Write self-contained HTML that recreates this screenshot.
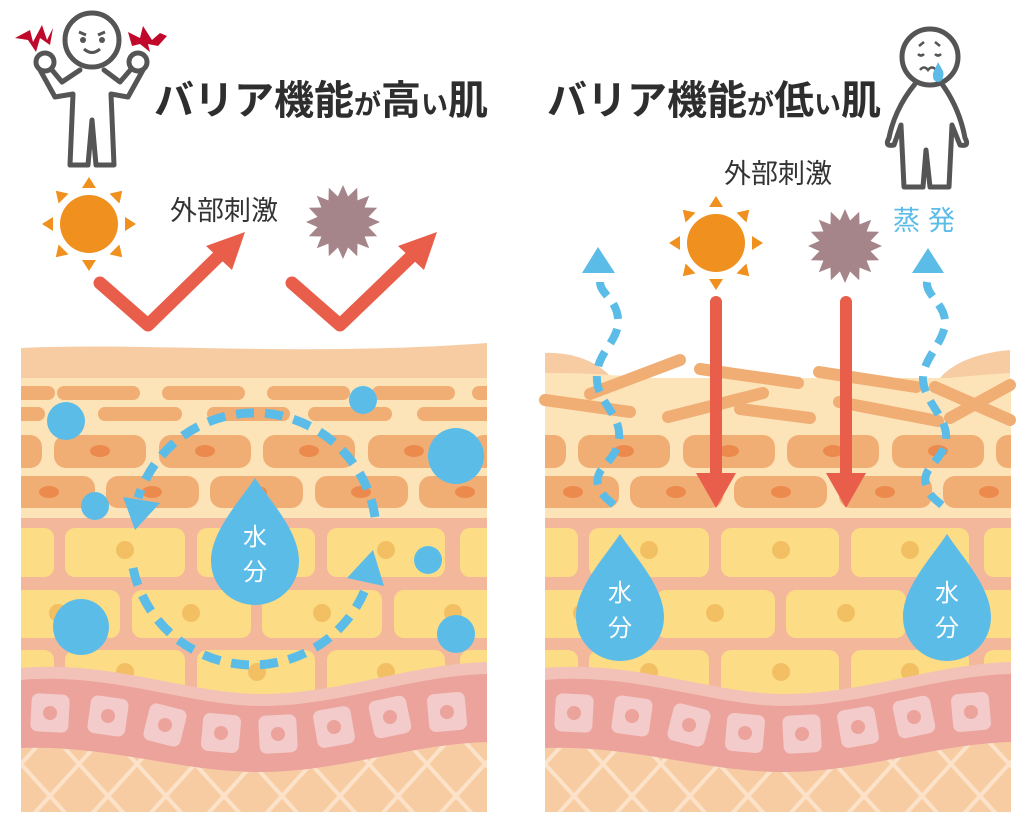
<!DOCTYPE html>
<html><head><meta charset="utf-8"><style>
html,body{margin:0;padding:0;background:#fff;}
svg{display:block;}
text{font-family:"Liberation Sans","Noto Sans CJK JP",sans-serif;}
</style></head><body>
<svg width="1024" height="825" viewBox="0 0 1024 825" xmlns="http://www.w3.org/2000/svg">
<defs>
<clipPath id="cp"><rect x="21" y="340" width="466" height="472"/></clipPath>
<pattern id="lat" x="21" y="700" width="58" height="64" patternUnits="userSpaceOnUse">
<path d="M0,0 L29,32 L58,0 M0,64 L29,32 L58,64" stroke="#FCE2C8" stroke-width="4" fill="none"/>
</pattern>
<g id="lower" clip-path="url(#cp)">
<rect x="21" y="378" width="466" height="142" fill="#FCE4B8"/>
<g fill="#F0AE74">
<rect x="0" y="435" width="42" height="33" rx="12"/><rect x="54" y="435" width="92" height="33" rx="12"/><rect x="159" y="435" width="92" height="33" rx="12"/><rect x="263" y="435" width="92" height="33" rx="12"/><rect x="368" y="435" width="92" height="33" rx="12"/><rect x="472" y="435" width="40" height="33" rx="12"/>
<rect x="0" y="476" width="95" height="32" rx="12"/><rect x="106" y="476" width="93" height="32" rx="12"/><rect x="210" y="476" width="93" height="32" rx="12"/><rect x="315" y="476" width="93" height="32" rx="12"/><rect x="419" y="476" width="93" height="32" rx="12"/>
</g>
<g fill="#EC8A4D">
<ellipse cx="100" cy="451" rx="10" ry="6"/><ellipse cx="205" cy="451" rx="10" ry="6"/><ellipse cx="309" cy="451" rx="10" ry="6"/><ellipse cx="414" cy="451" rx="10" ry="6"/>
<ellipse cx="49" cy="492" rx="10" ry="6"/><ellipse cx="152" cy="492" rx="10" ry="6"/><ellipse cx="257" cy="492" rx="10" ry="6"/><ellipse cx="361" cy="492" rx="10" ry="6"/><ellipse cx="465" cy="492" rx="10" ry="6"/>
</g>
<rect x="21" y="518" width="466" height="200" fill="#F3B89C"/>
<g fill="#FCDC84">
<rect x="0" y="528" width="54" height="49" rx="10"/><rect x="65" y="528" width="120" height="49" rx="10"/><rect x="197" y="528" width="118" height="49" rx="10"/><rect x="327" y="528" width="118" height="49" rx="10"/><rect x="460" y="528" width="60" height="49" rx="10"/>
<rect x="0" y="590" width="120" height="48" rx="10"/><rect x="132" y="590" width="119" height="48" rx="10"/><rect x="262" y="590" width="120" height="48" rx="10"/><rect x="394" y="590" width="120" height="48" rx="10"/>
<rect x="0" y="650" width="54" height="60" rx="10"/><rect x="65" y="650" width="120" height="60" rx="10"/><rect x="197" y="650" width="118" height="60" rx="10"/><rect x="327" y="650" width="118" height="60" rx="10"/><rect x="460" y="650" width="60" height="60" rx="10"/>
</g>
<g fill="#F2C063">
<circle cx="125" cy="550" r="9"/><circle cx="257" cy="550" r="9"/><circle cx="386" cy="550" r="9"/>
<circle cx="58" cy="613" r="9"/><circle cx="191" cy="613" r="9"/><circle cx="322" cy="613" r="9"/><circle cx="453" cy="613" r="9"/>
<circle cx="125" cy="672" r="9"/><circle cx="257" cy="672" r="9"/><circle cx="386" cy="672" r="9"/>
</g>
<rect x="21" y="700" width="466" height="112" fill="#F7CCA2"/>
<rect x="21" y="700" width="466" height="112" fill="url(#lat)"/>
<path d="M21,668 C110,660 190,694 260,694 C340,694 410,664 487,662 L487,742 C410,744 340,772 260,772 C180,772 110,745 21,748 Z" fill="#F2C2B8"/>
<path d="M21,680 C110,672 190,706 260,706 C340,706 410,676 487,674 L487,742 C410,744 340,772 260,772 C180,772 110,745 21,748 Z" fill="#EBA39B"/>
<g fill="#F3CBCB">
<rect x="31" y="694" width="38" height="38" rx="7" transform="rotate(3 50 713)"/>
<rect x="89" y="697" width="38" height="38" rx="7" transform="rotate(8 108 716)"/>
<rect x="146" y="706" width="38" height="38" rx="7" transform="rotate(14 165 725)"/>
<rect x="202" y="714" width="38" height="38" rx="7" transform="rotate(5 221 733)"/>
<rect x="259" y="715" width="38" height="38" rx="7" transform="rotate(-3 278 734)"/>
<rect x="315" y="708" width="38" height="38" rx="7" transform="rotate(-10 334 727)"/>
<rect x="371" y="698" width="38" height="38" rx="7" transform="rotate(-12 390 717)"/>
<rect x="428" y="693" width="38" height="38" rx="7" transform="rotate(-5 447 712)"/>
</g>
<g fill="#EBA39B">
<circle cx="50" cy="713" r="7"/><circle cx="108" cy="716" r="7"/><circle cx="165" cy="725" r="7"/><circle cx="221" cy="733" r="7"/><circle cx="278" cy="734" r="7"/><circle cx="334" cy="727" r="7"/><circle cx="390" cy="717" r="7"/><circle cx="447" cy="712" r="7"/>
</g>
</g>
<polygon id="star" fill="#A5858A" points="37,0 25.5,5.1 34.2,14.2 21.6,14.5 26.2,26.2 14.5,21.6 14.2,34.2 5.1,25.5 0,37 -5.1,25.5 -14.2,34.2 -14.5,21.6 -26.2,26.2 -21.6,14.5 -34.2,14.2 -25.5,5.1 -37,0 -25.5,-5.1 -34.2,-14.2 -21.6,-14.5 -26.2,-26.2 -14.5,-21.6 -14.2,-34.2 -5.1,-25.5 0,-37 5.1,-25.5 14.2,-34.2 14.5,-21.6 26.2,-26.2 21.6,-14.5 34.2,-14.2 25.5,-5.1"/>
<g id="sun">
<circle r="29" fill="#F0901F"/>
<g fill="#F0901F">
<polygon points="-7,-36 7,-36 0,-47"/>
<polygon points="-7,-36 7,-36 0,-47" transform="rotate(45)"/>
<polygon points="-7,-36 7,-36 0,-47" transform="rotate(90)"/>
<polygon points="-7,-36 7,-36 0,-47" transform="rotate(135)"/>
<polygon points="-7,-36 7,-36 0,-47" transform="rotate(180)"/>
<polygon points="-7,-36 7,-36 0,-47" transform="rotate(225)"/>
<polygon points="-7,-36 7,-36 0,-47" transform="rotate(270)"/>
<polygon points="-7,-36 7,-36 0,-47" transform="rotate(315)"/>
</g>
</g>
<path id="drop" d="M0,-83 C15,-60 44,-30 44,0 A44,44 0 0 1 -44,0 C-44,-30 -15,-60 0,-83 Z" fill="#5BBCE8"/>
</defs>

<!-- LEFT PANEL -->
<path d="M21,348 C150,342 300,357 487,343 L487,380 L21,380 Z" fill="#F7CCA2"/>
<use href="#lower"/>
<g clip-path="url(#cp)" fill="#F0AE74">
<rect x="0" y="386" width="55" height="14" rx="7"/><rect x="57" y="386" width="83" height="14" rx="7"/><rect x="162" y="386" width="83" height="14" rx="7"/><rect x="267" y="386" width="83" height="14" rx="7"/><rect x="372" y="386" width="83" height="14" rx="7"/><rect x="472" y="386" width="40" height="14" rx="7"/>
<rect x="0" y="407" width="45" height="14" rx="7"/><rect x="98" y="407" width="84" height="14" rx="7"/><rect x="207" y="407" width="83" height="14" rx="7"/><rect x="308" y="407" width="84" height="14" rx="7"/><rect x="417" y="407" width="84" height="14" rx="7"/>
</g>
<g fill="#5BBCE8">
<circle cx="66" cy="421" r="19"/><circle cx="363" cy="400" r="14"/><circle cx="456" cy="456" r="28"/><circle cx="95" cy="506" r="14"/><circle cx="428" cy="560" r="14"/><circle cx="81" cy="627" r="28"/><circle cx="456" cy="634" r="19"/>
</g>
<g fill="none" stroke="#5BBCE8" stroke-width="9" stroke-dasharray="18 11">
<path d="M375,517 A122,122 0 0 0 138,498"/>
<path d="M133,568 A122,122 0 0 0 368,582"/>
</g>
<g fill="#5BBCE8">
<polygon points="135,530 123,497 160,503"/>
<polygon points="373,550 347,578 384,586"/>
</g>
<use href="#drop" x="255" y="561"/>
<text x="255" y="545" font-size="24" fill="#fff" text-anchor="middle">水</text>
<text x="255" y="580" font-size="24" fill="#fff" text-anchor="middle">分</text>

<use href="#sun" x="89" y="224"/>
<use href="#star" x="343" y="222"/>
<text x="170" y="220" font-size="27" fill="#333">外部刺激</text>
<g stroke="#E95E4A" stroke-width="13" fill="none" stroke-linecap="round" stroke-linejoin="round">
<polyline points="100,283 148,325 225,250"/>
<polyline points="292,283 340,325 418,250"/>
</g>
<g fill="#E95E4A">
<polygon points="245,232 206,246 232,270"/>
<polygon points="437,232 398,246 424,270"/>
</g>
<text x="154" y="114" font-size="40" font-weight="bold" fill="#2e2e2e">バリア機能<tspan font-size="27">が</tspan>高<tspan font-size="27">い</tspan>肌</text>
<!-- left figure -->
<g stroke="#555" stroke-width="5" fill="#fff" stroke-linejoin="round" stroke-linecap="round">
<path d="M80,70 L62,82 L52,70 M40,70 L55,97 L73,94 L70,165 L88,165 L92,120 L96,165 L114,165 L111,94 L128,97 L143,70 M132,68 L120,82 L104,70" fill="none"/>
<circle cx="92" cy="40" r="27"/>
<circle cx="45" cy="62" r="9"/>
<circle cx="138" cy="62" r="9"/>
</g>
<g fill="#555"><circle cx="83" cy="40" r="3"/><circle cx="102" cy="40" r="3"/></g>
<path d="M84,49 Q92,56 100,49" stroke="#555" stroke-width="3" fill="none"/>
<path d="M79,32 L86,35 M105,32 L98,35" stroke="#555" stroke-width="3"/>
<g fill="#C0092A">
<polygon points="15,38 30,30 33,42 42,25 47,40 53,28 50,45 40,38 36,52 28,40"/>
<polygon points="128,32 140,38 143,26 152,40 160,33 167,36 158,46 148,44 150,52 140,44 132,46"/>
</g>

<!-- RIGHT PANEL -->
<use href="#lower" transform="translate(524 0)"/>
<path d="M545,353 C570,352 595,360 610,376 L545,380 Z" fill="#F7CCA2"/>
<path d="M940,378 C955,360 985,352 1010,350 L1010,380 Z" fill="#F7CCA2"/>
<path d="M545,373 C620,372 700,385 780,386 C860,390 930,378 1010,373 L1010,430 L545,430 Z" fill="#FCE4B8"/>
<g stroke="#F0AE74" stroke-width="12" stroke-linecap="round" fill="none">
<line x1="590" y1="394" x2="680" y2="360"/>
<line x1="545" y1="400" x2="630" y2="412"/>
<line x1="700" y1="369" x2="798" y2="383"/>
<line x1="668" y1="417" x2="763" y2="393"/>
<line x1="740" y1="409" x2="810" y2="418"/>
<line x1="819" y1="372" x2="916" y2="387"/>
<line x1="839" y1="402" x2="938" y2="421"/>
<line x1="935" y1="387" x2="1010" y2="420"/>
<line x1="950" y1="418" x2="1010" y2="385"/>
</g>
<g fill="none" stroke="#5BBCE8" stroke-width="8" stroke-dasharray="16 10">
<path d="M600,282 C600,295 620,300 618,325 C615,345 595,355 597,380 C598,405 625,415 618,445 C612,465 590,470 600,490 C605,500 617,505 620,512"/>
<path d="M927,282 C925,295 947,305 945,325 C942,345 922,360 923,380 C925,405 952,420 945,445 C938,465 918,470 928,490 C932,500 945,505 948,512"/>
</g>
<g fill="#5BBCE8">
<polygon points="598,247 582,273 615,273"/>
<polygon points="928,248 912,273 944,273"/>
</g>
<g stroke="#E95E4A" stroke-width="12" stroke-linecap="round">
<line x1="716" y1="302" x2="716" y2="478"/>
<line x1="846" y1="302" x2="846" y2="478"/>
</g>
<g fill="#E95E4A">
<polygon points="696,473 736,473 716,508"/>
<polygon points="826,473 866,473 846,508"/>
</g>
<use href="#drop" x="620" y="617"/>
<text x="620" y="601" font-size="24" fill="#fff" text-anchor="middle">水</text>
<text x="620" y="636" font-size="24" fill="#fff" text-anchor="middle">分</text>
<use href="#drop" x="947" y="617"/>
<text x="947" y="601" font-size="24" fill="#fff" text-anchor="middle">水</text>
<text x="947" y="636" font-size="24" fill="#fff" text-anchor="middle">分</text>

<use href="#sun" x="716" y="243"/>
<use href="#star" x="845" y="246"/>
<text x="724" y="183" font-size="27" fill="#333">外部刺激</text>
<text x="893" y="230" font-size="27" fill="#5BBCE8" letter-spacing="8">蒸発</text>
<text x="547" y="114" font-size="40" font-weight="bold" fill="#2e2e2e">バリア機能<tspan font-size="27">が</tspan>低<tspan font-size="27">い</tspan>肌</text>
<!-- right figure -->
<g stroke="#555" stroke-width="5" fill="#fff" stroke-linejoin="round" stroke-linecap="round">
<path d="M915,84 C900,102 892,122 889,138 Q884,147 894,145 L901,125 L904,187 L923,187 L926,150 L930,187 L949,187 L952,125 L960,145 Q970,147 965,138 C962,122 955,102 942,84" fill="none"/>
<circle cx="930" cy="57" r="28"/>
</g>
<path d="M918,54 Q921,57 924,54 M935,54 Q938,57 941,54 M919,46 L924,42 M940,46 L935,42 M920,70 Q924,65 928,70 Q932,65 936,70" stroke="#555" stroke-width="2.5" fill="none"/>
<path d="M938,62 C941,68 945,72 943,77 A5,5 0 0 1 933,77 C932,72 936,68 938,62 Z" fill="#5BBCE8"/>
</svg>
</body></html>
